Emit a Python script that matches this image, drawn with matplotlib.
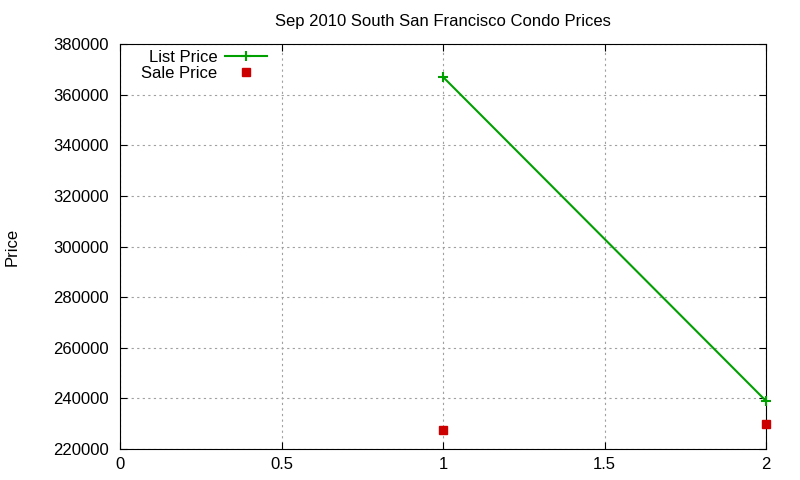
import matplotlib
matplotlib.use('Agg')
import matplotlib.pyplot as plt

plt.rcParams['font.family'] = ['Liberation Sans', 'DejaVu Sans']

list_x = [1, 2]
list_price = [367000, 239000]
sale_x = [1, 2]
sale_price = [227500, 230000]

green = '#00a000'
red = '#cc0000'

fig = plt.figure(figsize=(8, 4.8), dpi=100)
ax = fig.add_axes([0.15, 0.0646, 0.8075, 0.8437])

ax.plot(list_x, list_price, color=green, linewidth=1.5, marker='+',
        markersize=7, markeredgewidth=1.5, clip_on=False, zorder=3)
ax.plot(sale_x, sale_price, color=red, linestyle='none', marker='s',
        markersize=6, clip_on=False, zorder=3)

ax.set_xlim(0, 2)
ax.set_ylim(220000, 380000)
ax.set_xticks([0, 0.5, 1, 1.5, 2])
ax.set_xticklabels(['0', '0.5', '1', '1.5', '2'])
ax.set_yticks(range(220000, 380001, 20000))
ax.set_yticklabels([str(v) for v in range(220000, 380001, 20000)])
ax.tick_params(labelsize=12, direction='in', length=5, top=True, right=True)
ax.tick_params(axis='x', pad=6)
ax.tick_params(axis='y', pad=8)
ax.grid(True, color='#a0a0a0', linestyle=(0, (2, 3)), linewidth=0.8)

ax.set_title('Sep 2010 South San Francisco Condo Prices', fontsize=12, pad=13)
ax.set_ylabel('Price', fontsize=12)
ax.yaxis.set_label_coords(-0.155, 0.5)

# key, gnuplot style: labels right-aligned, sample to the right
tr = ax.transAxes
ax.text(0.151, 0.967, 'List Price', transform=tr, ha='right', va='center', fontsize=12)
ax.plot([0.1625, 0.2276], [0.970, 0.970], transform=tr, color=green, linewidth=1.5)
ax.plot([0.195], [0.970], transform=tr, color=green, marker='+', markersize=7, markeredgewidth=1.5)
ax.text(0.151, 0.927, 'Sale Price', transform=tr, ha='right', va='center', fontsize=12)
ax.plot([0.195], [0.931], transform=tr, color=red, marker='s', markersize=6, linestyle='none')

fig.savefig('out.png', dpi=100)
